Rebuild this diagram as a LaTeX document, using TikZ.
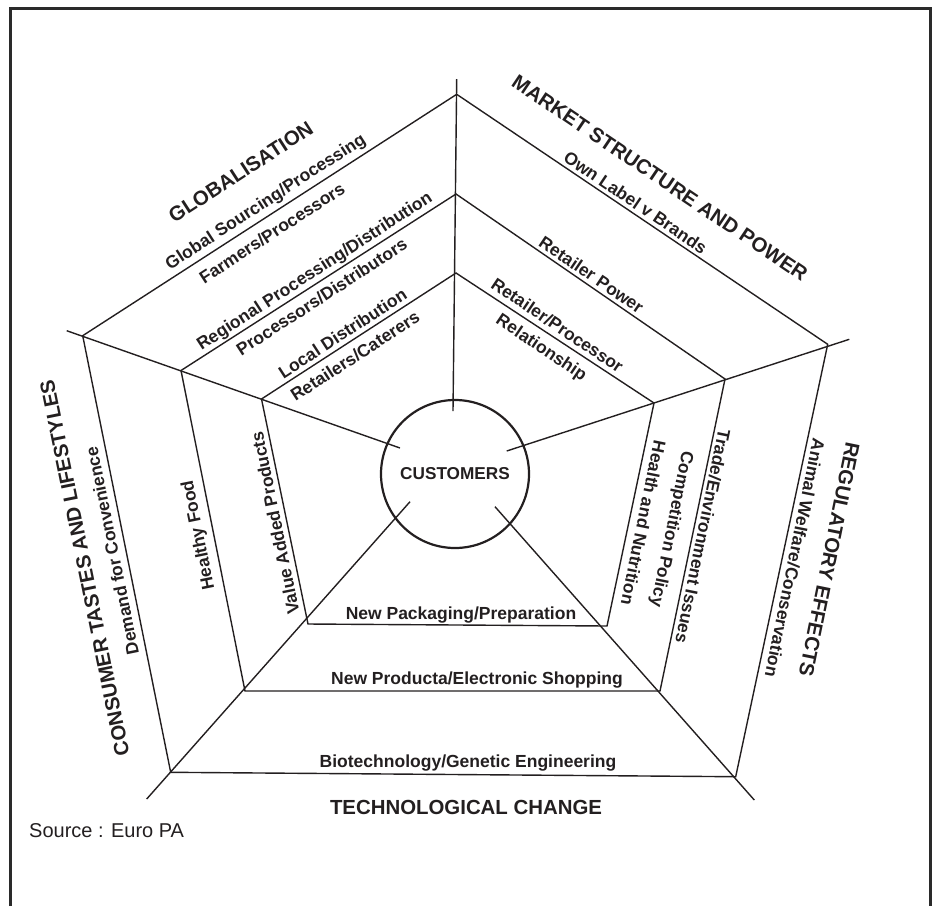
\documentclass[tikz,border=0pt]{standalone}
\usepackage{fontspec}
\setmainfont{Liberation Sans}
\definecolor{ink}{HTML}{231F20}
\definecolor{framec}{HTML}{2A2A2A}
\begin{document}
\begin{tikzpicture}[x=1pt,y=-1pt,
  ln/.style={line width=1.4pt, draw=ink},
  lbl/.style={font=\fontsize{17.5}{20}\selectfont\bfseries, text=ink, inner sep=0pt, anchor=center},
  hd/.style={font=\fontsize{20.4}{23}\selectfont\bfseries, text=ink, inner sep=0pt, anchor=center},
  hub/.style={circle, draw=ink, line width=2.2pt, minimum size=148pt, inner sep=0pt,
              font=\fontsize{17.2}{20}\selectfont\bfseries, text=ink}
]
\useasboundingbox (0,0) rectangle (932,906);
% frame
\draw[line width=2.7pt, draw=framec] (10.3,906) -- (10.3,8.7) -- (930.5,8.7) -- (930.5,906);

% vertices
\coordinate (O1) at (456.7,94.3);
\coordinate (O2) at (827.7,344.3);
\coordinate (O3) at (735.7,776.7);
\coordinate (O4) at (170.7,772.3);
\coordinate (O5) at (82.7,335.7);
\coordinate (M1) at (456,194);
\coordinate (M2) at (725,379);
\coordinate (M3) at (660,691);
\coordinate (M4) at (245,691);
\coordinate (M5) at (181,370.5);
\coordinate (I1) at (456,273);
\coordinate (I2) at (654,403);
\coordinate (I3) at (607,626);
\coordinate (I4) at (308,624);
\coordinate (I5) at (261.5,399);
% spoke ends
\coordinate (S1) at (456.7,79);
\coordinate (S2) at (849.3,339.3);
\coordinate (S3) at (754.3,800);
\coordinate (S4) at (146.7,799);
\coordinate (S5) at (66.7,330.7);
\coordinate (C1) at (453,411);
\coordinate (C2) at (506.7,451);
\coordinate (C3) at (495,506.7);
\coordinate (C4) at (410,501.7);
\coordinate (C5) at (400,448);

% pentagons
\draw[ln] (O1) -- (O2) -- (O3) -- (O4) -- (O5) -- cycle;
\draw[ln] (M1) -- (M2) -- (M3) -- (M4) -- (M5) -- cycle;
\draw[ln] (I1) -- (I2) -- (I3) -- (I4) -- (I5) -- cycle;
% spokes
\draw[ln] (S1) -- (C1);
\draw[ln] (S2) -- (C2);
\draw[ln] (S3) -- (C3);
\draw[ln] (S4) -- (C4);
\draw[ln] (S5) -- (C5);

% hub
\node[hub] (cust) at (455,474) {CUSTOMERS};

% top-left
\node[hd, rotate=33] (glob) at (240.8,172) {GLOBALISATION};
\node[lbl, rotate=33] (gsp) at (266,202.5) {Global Sourcing/Processing};
\node[lbl, rotate=33] (fp) at (272,233) {Farmers/Processors};
\node[lbl, rotate=33] (rpd) at (315,272) {Regional Processing/Distribution};
\node[lbl, rotate=33] (pd) at (321.7,296.7) {Processors/Distributors};
\node[lbl, rotate=33] (ld) at (342.5,333.3) {Local Distribution};
\node[lbl, rotate=33] (rc) at (355,356) {Retailers/Caterers};

% top-right
\node[hd, rotate=-34] (msp) at (660,178) {MARKET STRUCTURE AND POWER};
\node[lbl, rotate=-34] (olb) at (635.5,202.4) {Own Label v Brands};
\node[lbl, rotate=-34] (rp) at (591.5,274.7) {Retailer Power};
\node[lbl, rotate=-34] (rpr) at (557.4,325.3) {Retailer/Processor};
\node[lbl, rotate=-34] (rel) at (541,348.5) {Relationship};

% right
\node[hd, rotate=-101.5] (reg) at (829.3,559.6) {REGULATORY EFFECTS};
\node[lbl, rotate=-101.5] (awc) at (795,558) {Animal Welfare/Conservation};
\node[lbl, rotate=-101.5] (tei) at (703,536.5) {Trade/Environment Issues};
\node[lbl, rotate=-101.5] (cp) at (671,529) {Competition Policy};
\node[lbl, rotate=-101.5] (hn) at (643.5,523) {Health and Nutrition};

% left
\node[hd, rotate=101.5] (ctl) at (84.7,568) {CONSUMER TASTES AND LIFESTYLES};
\node[lbl, rotate=101.5] (dfc) at (112,551) {Demand for Convenience};
\node[lbl, rotate=101.5] (hf) at (199,535) {Healthy Food};
\node[lbl, rotate=101.5] (vap) at (275,523) {Value Added Products};

% bottom
\node[lbl] (npp) at (461,615) {New Packaging/Preparation};
\node[lbl] (npe) at (477,680) {New Producta/Electronic Shopping};
\node[lbl] (bge) at (468,763) {Biotechnology/Genetic Engineering};
\node[hd] (tc) at (466,807) {TECHNOLOGICAL CHANGE};

% source
\node[anchor=base west, inner sep=0pt, font=\fontsize{20}{24}\selectfont, text=ink] (src) at (29,837) {Source : Euro PA};
\end{tikzpicture}
\end{document}
